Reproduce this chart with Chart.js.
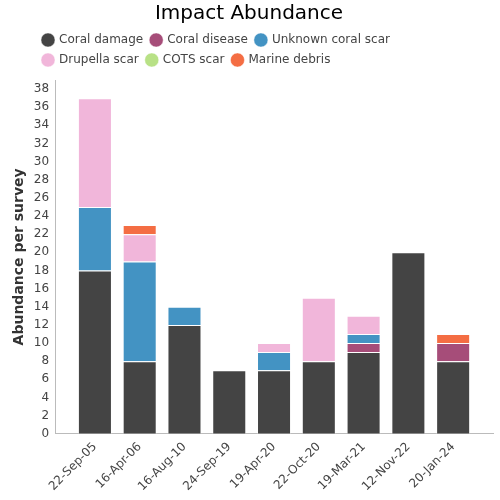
<!DOCTYPE html>
<html><head><meta charset="utf-8">
<script src="https://cdn.jsdelivr.net/npm/chart.js@4"></script>
<style>html,body{margin:0;padding:0;background:#fff}#wrap{width:500px;height:500px}</style>
</head><body><div id="wrap"><canvas id="c" width="500" height="500"></canvas></div>
<script>
const categories = ["22-Sep-05","16-Apr-06","16-Aug-10","24-Sep-19","19-Apr-20","22-Oct-20","19-Mar-21","12-Nov-22","20-Jan-24"];
const coralDamage   = [18, 8, 12, 7, 7, 8, 9, 20, 8];
const coralDisease  = [0, 0, 0, 0, 0, 0, 1, 0, 2];
const unknownScar   = [7, 11, 2, 0, 2, 0, 1, 0, 0];
const drupellaScar  = [12, 3, 0, 0, 1, 7, 2, 0, 0];
const cotsScar      = [0, 0, 0, 0, 0, 0, 0, 0, 0];
const marineDebris  = [0, 1, 0, 0, 0, 0, 0, 0, 1];
const yTicks = [0,2,4,6,8,10,12,14,16,18,20,22,24,26,28,30,32,34,36,38];
const seriesNames = ["Coral damage","Coral disease","Unknown coral scar","Drupella scar","COTS scar","Marine debris"];
const seriesColors = ["#444444","#a64d79","#4393c3","#f1b6da","#b8e186","#f46d43"];
const seriesData = [coralDamage, coralDisease, unknownScar, drupellaScar, cotsScar, marineDebris];

Chart.defaults.font.family = "'DejaVu Sans', sans-serif";
Chart.defaults.color = "#444";

const legendShift = {
  id: 'legendShift',
  afterInit(chart) {
    const lg = chart.legend;
    if (lg) { const f = lg.fit.bind(lg); lg.fit = function () { f(); this.height += 4; }; }
  },
  afterLayout(chart) { if (chart.legend) { chart.legend.left = 35; } }
};

new Chart(document.getElementById('c'), {
  type: 'bar',
  data: {
    labels: categories,
    datasets: seriesNames.map((n, i) => ({
      label: n,
      data: seriesData[i],
      backgroundColor: seriesColors[i],
      borderColor: 'rgba(255,255,255,0.5)',
      borderWidth: 1,
      categoryPercentage: 1,
      barPercentage: 0.76
    }))
  },
  plugins: [legendShift],
  options: {
    responsive: false,
    animation: false,
    layout: { padding: { left: 5, right: 7, top: 0, bottom: 0 } },
    plugins: {
      title: { display: true, text: 'Impact Abundance', color: '#000', font: { size: 20, weight: 'normal' }, padding: { top: 2, bottom: 0 } },
      legend: { align: 'start', labels: { usePointStyle: true, pointStyle: 'circle', boxWidth: 10, boxHeight: 10, padding: 8, font: { size: 12 }, color: '#444' } },
      tooltip: { enabled: false }
    },
    scales: {
      x: {
        stacked: true,
        grid: { display: false, drawTicks: false },
        border: { color: '#bbb' },
        ticks: { maxRotation: 45, minRotation: 45, font: { size: 12 }, color: '#444', padding: 6 },
        afterBuildTicks: s => { const pad = 0.39; s._startValue = -0.5 - pad; s._valueRange = categories.length + 2 * pad; }
      },
      y: {
        stacked: true,
        min: 0, max: 39,
        grid: { display: false, drawTicks: false },
        border: { color: '#bbb' },
        afterBuildTicks: s => { s.ticks = yTicks.map(v => ({ value: v })); },
        ticks: { font: { size: 12 }, color: '#444', padding: 6 },
        title: { display: true, text: 'Abundance per survey', color: '#333', font: { size: 14, weight: 'bold' }, padding: { top: 6, bottom: 0 } }
      }
    }
  }
});
</script></body></html>
